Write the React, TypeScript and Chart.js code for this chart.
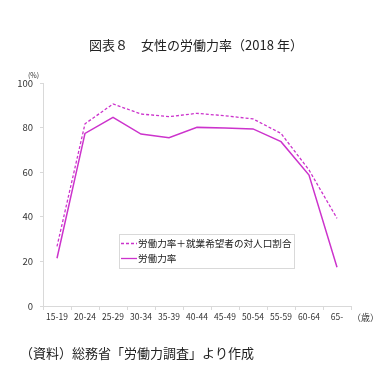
import React, { useEffect, useRef } from "react";
import { Chart, registerables } from "chart.js";

Chart.register(...registerables);

const categories = ["15-19", "20-24", "25-29", "30-34", "35-39", "40-44", "45-49", "50-54", "55-59", "60-64", "65-"];
const withHopeful = [26.7, 81.7, 90.6, 86.1, 84.9, 86.4, 85.3, 83.9, 77.4, 61.0, 39.3];
const laborRate = [21.4, 77.4, 84.6, 77.1, 75.5, 80.1, 79.8, 79.4, 73.7, 58.7, 17.4];
const seriesNames = ["労働力率＋就業希望者の対人口割合", "労働力率"];
const titleText = "図表８　女性の労働力率（2018 年）";
const footerText = "（資料）総務省「労働力調査」より作成";
const yUnit = "(%)";
const xUnit = "（歳）";

const LINE = "#cc33cc";
const FONT = "'Noto Sans CJK JP', 'Noto Sans', sans-serif";

const decor = {
  id: "decor",
  afterDraw(chart: any) {
    const ctx = chart.ctx;
    const area = chart.chartArea;
    ctx.save();
    ctx.fillStyle = "#222";
    ctx.textBaseline = "middle";
    ctx.font = `13px ${FONT}`;
    ctx.textAlign = "center";
    ctx.fillText(titleText, 196, 45);
    ctx.textAlign = "left";
    ctx.fillText(footerText, 20, 353);
    ctx.fillStyle = "#333";
    ctx.font = `7px ${FONT}`;
    ctx.textAlign = "left";
    ctx.fillText(yUnit, area.left - 15, area.top - 8);
    ctx.font = `9px ${FONT}`;
    ctx.fillText(xUnit, area.right + 1, 318);

    // legend
    const lx = 119, ly = 234, lw = 175, lh = 34;
    ctx.strokeStyle = "#d9d9d9";
    ctx.lineWidth = 1;
    ctx.strokeRect(lx + 0.5, ly + 0.5, lw, lh);
    ctx.font = `9.6px ${FONT}`;
    ctx.fillStyle = "#222";
    const rows = [ly + 9.5, ly + 24.5];
    chart.data.datasets.forEach((ds: any, i: number) => {
      ctx.beginPath();
      ctx.strokeStyle = LINE;
      ctx.lineWidth = 1.3;
      ctx.setLineDash(ds.borderDash || []);
      ctx.moveTo(lx + 2, rows[i]);
      ctx.lineTo(lx + 18, rows[i]);
      ctx.stroke();
      ctx.setLineDash([]);
      ctx.fillText(seriesNames[i], lx + 19, rows[i]);
    });
    ctx.restore();
  },
};

export default function App() {
  const ref = useRef<HTMLCanvasElement>(null);
  useEffect(() => {
    if (!ref.current) return;
    const chart = new Chart(ref.current, {
      type: "line",
      data: {
        labels: categories,
        datasets: [
          {
            label: seriesNames[0],
            data: withHopeful,
            borderColor: LINE,
            borderWidth: 1.3,
            borderDash: [3, 2],
            pointRadius: 0,
            tension: 0,
          },
          {
            label: seriesNames[1],
            data: laborRate,
            borderColor: LINE,
            borderWidth: 1.5,
            pointRadius: 0,
            tension: 0,
          },
        ],
      },
      options: {
        animation: false,
        responsive: false,
        layout: { padding: { left: 0, right: 37, top: 83, bottom: 53 } },
        plugins: { legend: { display: false }, title: { display: false }, tooltip: { enabled: false } },
        scales: {
          x: {
            offset: true,
            grid: { display: true, drawOnChartArea: false, drawTicks: true, tickLength: 4, color: "#d9d9d9", offset: true },
            border: { color: "#d9d9d9" },
            ticks: { color: "#333", font: { size: 8.5, family: FONT }, padding: 2, maxRotation: 0, autoSkip: false },
            afterFit(scale: any) {
              scale.height = 20;
            },
          },
          y: {
            min: 0,
            max: 100,
            ticks: { stepSize: 20, color: "#333", font: { size: 9.5, family: FONT }, padding: 7 },
            grid: { display: true, drawOnChartArea: false, drawTicks: true, tickLength: 3, color: "#d9d9d9" },
            border: { color: "#d9d9d9" },
            afterFit(scale: any) {
              scale.width = 43;
            },
          },
        },
      },
      plugins: [decor],
    });
    return () => chart.destroy();
  }, []);
  return (
    <div style={{ position: "absolute", left: 0, top: 0, width: 388, height: 379, background: "#fff" }}>
      <canvas ref={ref} width={388} height={379} style={{ width: 388, height: 379 }} />
    </div>
  );
}
